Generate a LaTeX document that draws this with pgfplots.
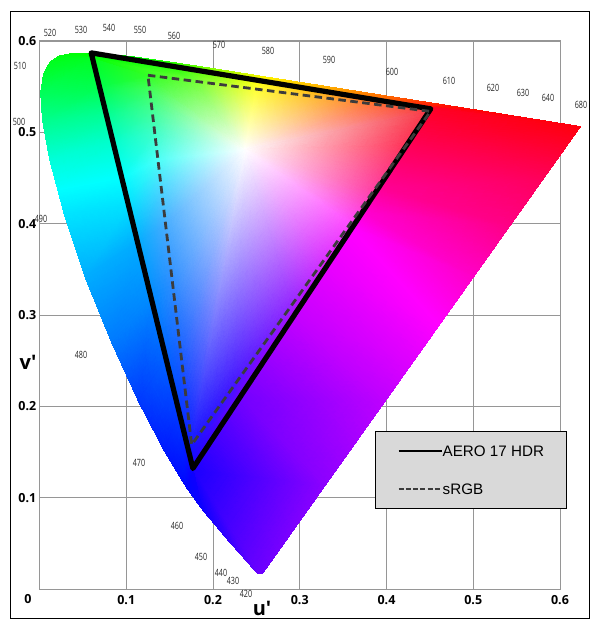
\documentclass[border=0pt]{standalone}
\usepackage{fontspec}
\setmainfont{Liberation Sans}
\newfontfamily\openb{Open Sans}
\newfontfamily\narrow[FakeStretch=0.72]{Open Sans}
\usepackage{pgfplots}
\usepgfplotslibrary{patchplots}
\pgfplotsset{compat=1.18}
\pgfplotstableread{
x y c
.2367 .481 1,1,1
.4507 .5229 .97,.22,.27
.4525 .527 1,0,.15
.6235 .5063 1,0,.05
.2367 .481 1,1,1
.4221 .485 1,.2,.35
.4269 .49 1,0,.32
.58 .4482 1,0,.36
.2367 .481 1,1,1
.3844 .435 1,.25,.65
.3922 .44 1,0,.58
.542 .3975 1,0,.52
.2367 .481 1,1,1
.3693 .415 1,.27,.85
.3728 .412 1,0,.82
.50 .3414 1,0,.78
.2367 .481 1,1,1
.358 .40 1,.28,1
.3609 .395 1,0,1
.461 .2893 1,0,1
.2367 .481 1,1,1
.3279 .36 .85,.2,1
.3298 .35 .9,0,1
.43 .2479 .87,0,1
.2367 .481 1,1,1
.2901 .31 .58,.15,1
.2951 .30 .77,0,1
.40 .2078 .75,0,1
.2367 .481 1,1,1
.2223 .22 .25,.08,1
.2327 .21 .45,0,1
.33 .1145 .55,0,1
.2367 .481 1,1,1
.1754 .1579 .08,.08,1
.1772 .13 .1,0,1
.2568 .0166 .43,0,1
.2367 .481 1,1,1
.1754 .1579 .08,.08,1
.1772 .13 .1,0,1
.2522 .0169 .42,0,1
.2367 .481 1,1,1
.1754 .1579 .08,.08,1
.1772 .13 .1,0,1
.2461 .0226 .38,0,1
.2367 .481 1,1,1
.1754 .1579 .08,.08,1
.1772 .13 .1,0,1
.2347 .035 .32,0,1
.2367 .481 1,1,1
.1754 .1579 .08,.08,1
.1772 .13 .1,0,1
.2161 .0549 .2,0,1
.2367 .481 1,1,1
.1754 .1579 .08,.08,1
.1772 .13 .1,0,1
.1877 .0871 .05,0,1
.2367 .481 1,1,1
.1754 .1579 .08,.08,1
.1772 .13 .05,0,1
.169 .1119 0,.02,1
.2367 .481 1,1,1
.1727 .18 .08,.16,1
.1616 .19 0,.22,1
.1441 .151 0,.1,1
.2367 .481 1,1,1
.1627 .26 .1,.38,1
.146 .25 0,.38,1
.1147 .2044 0,.22,1
.2367 .481 1,1,1
.154 .33 .18,.55,1
.1278 .32 0,.55,1
.0828 .2708 0,.48,1
.2367 .481 1,1,1
.1452 .40 .28,.68,1
.1122 .38 0,.68,1
.0521 .3427 0,.68,1
.2367 .481 1,1,1
.1403 .44 .3,.85,1
.1018 .42 0,.88,1
.0282 .4117 0,.9,1
.2367 .481 1,1,1
.1365 .47 .3,1,.97
.094 .45 0,1,1
.0211 .437 0,1,1
.2367 .481 1,1,1
.1328 .50 .25,1,.78
.0836 .49 0,1,.8
.0119 .4698 0,1,.85
.2367 .481 1,1,1
.1297 .525 .26,1,.58
.0758 .52 0,1,.58
.0035 .5131 0,1,.55
.2367 .481 1,1,1
.1268 .548 .25,1,.35
.068 .55 0,1,.3
.0014 .5432 0,1,.35
.2367 .481 1,1,1
.125 .5625 .2,1,.15
.058 .583 0,1,.12
.0046 .5638 0,1,.2
.2367 .481 1,1,1
.125 .5625 .2,1,.15
.058 .583 0,1,.12
.0123 .577 0,1,.12
.2367 .481 1,1,1
.125 .5625 .2,1,.15
.058 .583 0,1,.1
.0231 .5837 0,1,.06
.2367 .481 1,1,1
.125 .5625 .2,1,.15
.058 .583 0,1,.08
.036 .5861 0,1,.03
.2367 .481 1,1,1
.125 .5625 .2,1,.15
.058 .583 0,1,.05
.0501 .5868 0,1,0
.2367 .481 1,1,1
.125 .5625 .2,1,.15
.06 .583 0,1,.03
.0792 .5856 0,1,0
.2367 .481 1,1,1
.18 .5558 .45,1,.22
.15 .5742 .1,1,0
.1127 .5821 0,1,0
.2367 .481 1,1,1
.21 .5522 .7,1,.22
.19 .5679 .35,1,0
.1531 .5766 .15,1,0
.2367 .481 1,1,1
.235 .5491 .9,1,.2
.22 .5633 .7,1,0
.2026 .5694 .55,1,0
.2367 .481 1,1,1
.25 .5473 1,1,.2
.25 .5586 1,1,0
.2623 .5604 1,.95,0
.2367 .481 1,1,1
.32 .5388 1,.72,.2
.33 .5461 1,.68,0
.3315 .5501 1,.68,0
.2367 .481 1,1,1
.39 .5303 1,.42,.22
.40 .5352 1,.4,0
.4035 .5393 1,.4,0
.2367 .481 1,1,1
.4507 .5229 .97,.22,.27
.4525 .527 1,.05,.05
.4692 .5296 1,.08,0
.2367 .481 1,1,1
.4507 .5229 .97,.22,.27
.4525 .527 1,.02,.08
.5203 .5219 1,0,0
.2367 .481 1,1,1
.4507 .5229 .97,.22,.27
.4525 .527 1,0,.15
.6235 .5063 1,0,.05
}\locus
\pgfplotstableread{
x y
.0596 .587
.451 .5257
.1768 .132
}\aero
\pgfplotstableread{
x y
.125 .5625
.4507 .5229
.1754 .1579
}\srgb
\definecolor{gridg}{RGB}{150,150,150}
\definecolor{dashg}{RGB}{60,60,60}
\definecolor{legg}{RGB}{217,217,217}
\begin{document}
\begin{tikzpicture}[x=1pt,y=1pt]
\fill[white,use as bounding box] (0,0) rectangle (601,627);
\begin{axis}[
  at={(39.5pt,38pt)},anchor=south west,
  scale only axis,width=520.5pt,height=548pt,
  clip=false,
  xmin=0,xmax=.6,ymin=0,ymax=.6,
  xtick={0,.1,.2,.3,.4,.5,.6},
  ytick={0,.1,.2,.3,.4,.5,.6},
  xticklabels={,0.1,0.2,0.3,0.4,0.5,0.6},
  yticklabels={,0.1,0.2,0.3,0.4,0.5,0.6},
  major tick length=0pt,
  grid=major,
  grid style={gridg,line width=.9pt},
  axis line style={gridg,line width=1pt},
  tick label style={font=\fontsize{12.5}{14}\openb\bfseries,inner sep=0pt},
  xticklabel style={yshift=-6pt},
  yticklabel style={xshift=-3pt},
  legend cell align=left,
  legend style={
    at={(axis cs:.3871,.1725)},anchor=north west,
    fill=legg,draw=black,line width=.8pt,
    inner xsep=22pt,inner ysep=14pt,
    font=\fontsize{15.2}{17}\selectfont,
    row sep=27pt,
    nodes={inner sep=0pt,text depth=0pt},
    /tikz/every even column/.append style={column sep=8pt},
  },
]
\addplot[surf,forget plot,shader=interp,mesh/cols=4,mesh/color input=explicit] table[x=x,y=y,meta=c]{\locus};
\addplot[black,line width=5.2pt,line join=round,legend image code/.code={\draw[black,line width=2pt](-11pt,0pt)--(32pt,0pt);}] table[x=x,y=y]{\aero} -- cycle;
\addlegendentry{AERO 17 HDR}
\addplot[dashg,line width=2.8pt,dash pattern=on 7.5pt off 4.5pt,legend image code/.code={\draw[dashg,line width=1.5pt,dash pattern=on 5pt off 2.2pt](-11pt,0pt)--(32pt,0pt);}] table[x=x,y=y]{\srgb} -- cycle;
\addlegendentry{sRGB}
\end{axis}
\draw[black,line width=1pt] (10.5,8) rectangle (589,615);
\node[font=\fontsize{12.5}{14}\openb\bfseries,inner sep=0pt] at (28,28) {0};
\node[font=\fontsize{20}{22}\openb\bfseries,inner sep=0pt] at (262,19) {u′};
\node[font=\fontsize{20}{22}\openb\bfseries,inner sep=0pt] at (28,265) {v′};
\foreach \t/\px/\py in {520/50/33,530/81/30,540/109/28,550/140/30,560/174/36,570/219/45,580/268/51,590/329/60,600/392/72,610/449/81,620/493/88,630/523/93,640/548/98,680/581/105,510/20/66,500/19/122,490/41/219,480/81/355,470/139/463,460/177/526,450/201/557,440/221/573,430/233/581,420/246/594}
  \node[font=\fontsize{10}{11}\narrow,text=black!85,inner sep=0pt] at (\px,627-\py) {\t};
\end{tikzpicture}
\end{document}
